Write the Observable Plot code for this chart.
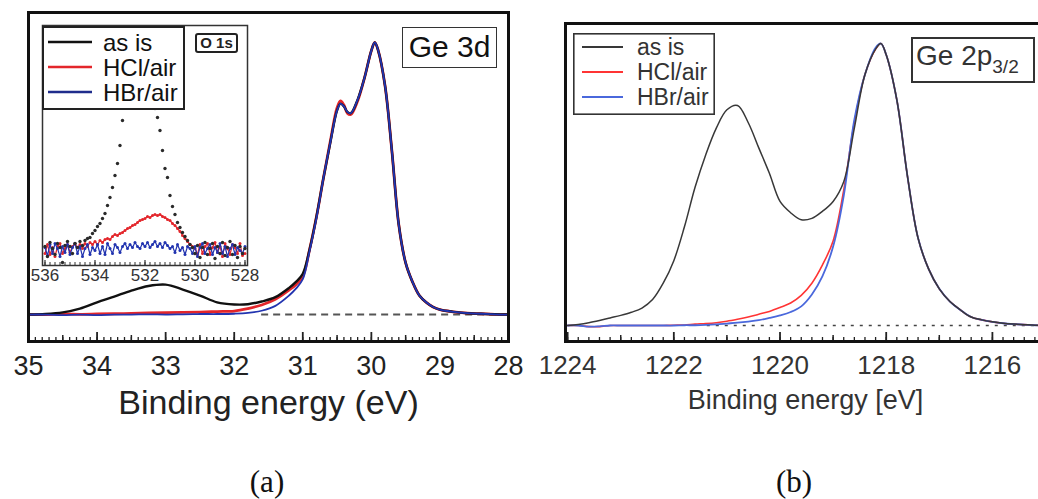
<!DOCTYPE html>
<html><head><meta charset="utf-8">
<script src="https://cdn.jsdelivr.net/npm/d3@7"></script>
<script src="https://cdn.jsdelivr.net/npm/@observablehq/plot@0.6"></script>
<style>
html,body{margin:0;padding:0;background:#fff}
#chart{position:relative;width:1038px;height:499px;overflow:hidden;background:#fff;font-family:"Liberation Sans",Arial,sans-serif}
.box{position:absolute;box-sizing:border-box;background:#fff;white-space:nowrap}
.cap{position:absolute;width:100px;text-align:center;font-family:"Liberation Serif","Times New Roman",serif;font-size:31px;line-height:31px;color:#111}
</style></head><body><div id="chart"></div>
<script>
// ---------- Panel (a): Ge 3d ----------
const energiesA = [35, 34.75, 34.5, 34.25, 34, 33.75, 33.5, 33.25, 33, 32.75, 32.5, 32.25, 32, 31.8, 31.6, 31.4, 31.2, 31.1, 31.0, 30.9, 30.8, 30.7, 30.6, 30.5, 30.45, 30.4, 30.35, 30.3, 30.2, 30.1, 30.0, 29.95, 29.9, 29.8, 29.7, 29.6, 29.5, 29.4, 29.3, 29.2, 29.1, 29.0, 28.8, 28.6, 28.4, 28.2, 28];
const asIsA = [0, 0.002, 0.008, 0.022, 0.045, 0.066, 0.088, 0.105, 0.11, 0.092, 0.07, 0.045, 0.037, 0.038, 0.048, 0.064, 0.098, 0.12, 0.15, 0.24, 0.36, 0.5, 0.63, 0.75, 0.775, 0.765, 0.745, 0.74, 0.79, 0.87, 0.97, 1.0, 0.97, 0.84, 0.6, 0.33, 0.19, 0.12, 0.07, 0.045, 0.028, 0.018, 0.01, 0.005, 0.003, 0.001, 0];
const hclA = [0, 0, 0.002, 0.001, 0.002, 0.003, 0.004, 0.006, 0.007, 0.008, 0.009, 0.011, 0.013, 0.022, 0.035, 0.056, 0.09, 0.11, 0.14, 0.24, 0.36, 0.5, 0.635, 0.76, 0.785, 0.77, 0.74, 0.735, 0.785, 0.87, 0.97, 1.0, 0.97, 0.84, 0.6, 0.33, 0.19, 0.12, 0.07, 0.045, 0.028, 0.018, 0.01, 0.005, 0.003, 0.001, 0];
const hbrA = [0, 0, -0.002, 0, -0.002, 0, 0, 0.001, 0, 0.001, 0.002, 0.002, 0.003, 0.006, 0.014, 0.032, 0.07, 0.095, 0.13, 0.235, 0.355, 0.5, 0.63, 0.75, 0.775, 0.765, 0.745, 0.74, 0.79, 0.87, 0.97, 1.0, 0.97, 0.84, 0.6, 0.33, 0.19, 0.12, 0.07, 0.045, 0.028, 0.018, 0.01, 0.005, 0.003, 0.001, 0];
const tickLabelsA = [35, 34, 33, 32, 31, 30, 29, 28];
const dashedBaseA = [31.6, 28];

// ---------- Inset of (a): O 1s ----------
const energiesInset = [536.0,535.9,535.8,535.7,535.6,535.5,535.4,535.3,535.2,535.1,
 535.0,534.9,534.8,534.7,534.6,534.5,534.4,534.3,534.2,534.1,
 534.0,533.9,533.8,533.7,533.6,533.5,533.4,533.3,533.2,533.1,
 533.0,532.9,532.8,532.7,532.6,532.5,532.4,532.3,532.2,532.1,
 532.0,531.9,531.8,531.7,531.6,531.5,531.4,531.3,531.2,531.1,
 531.0,530.9,530.8,530.7,530.6,530.5,530.4,530.3,530.2,530.1,
 530.0,529.9,529.8,529.7,529.6,529.5,529.4,529.3,529.2,529.1,
 529.0,528.9,528.8,528.7,528.6,528.5,528.4,528.3,528.2,528.1,
 528.0];
const asIsInset = [4,-6,8,2,-4,7,3,-12,5,9,
 4,-3,7,3,9,5,10,12,13,17,
 20,24,27,32,37,45,53,63,75,87,
 105,130,155,180,200,212,218,220,218,210,
 198,185,170,155,142,133,120,100,82,73,
 55,44,36,28,23,18,14,10,6,3,
 -3,5,-7,3,8,-4,2,7,-8,4,
 -3,8,-5,3,9,-4,5,-7,4,-3,
 2];
const hclInset = [-3,6,-4,3,-6,4,7,-3,2,6,
 -2,4,7,3,6,2,7,4,8,6,
 9,6,10,8,11,12,11,14,16,15,
 17,18,20,22,23,25,26,28,30,31,
 32,34,33,35,36,35,36,34,33,31,
 30,27,25,22,19,15,12,9,6,4,
 2,-4,6,-3,4,7,-4,3,8,-2,
 4,-6,7,2,-4,6,3,-3,7,-5,
 -3];
const hbrInset = [3,-5,6,-3,7,2,-6,4,-2,6,
 -4,3,7,-3,4,-6,2,6,-4,3,
 0,6,-3,4,-4,7,2,-3,6,3,
 -2,4,7,2,6,3,8,4,2,7,
 4,8,3,6,9,4,7,3,8,5,
 2,4,-2,6,0,3,-4,4,2,-3,
 4,-6,3,7,-3,2,6,-4,3,-2,
 7,-3,4,-6,2,6,-4,3,0,-3,
 4];
const tickLabelsInset = [536, 534, 532, 530, 528];

// ---------- Panel (b): Ge 2p3/2 ----------
const energiesB = [1224.0, 1223.8, 1223.6, 1223.4, 1223.2, 1223.0, 1222.8, 1222.6, 1222.4, 1222.2, 1222.0, 1221.8, 1221.6, 1221.4, 1221.2, 1221.0, 1220.8, 1220.6, 1220.4, 1220.2, 1220.0, 1219.8, 1219.6, 1219.4, 1219.2, 1219.0, 1218.8, 1218.6, 1218.4, 1218.2, 1218.1, 1218.0, 1217.8, 1217.6, 1217.4, 1217.2, 1217.0, 1216.8, 1216.6, 1216.4, 1216.2, 1216.0, 1215.8, 1215.6, 1215.4, 1215.2, 1215.0];
const asIsB = [0, 0.004, 0.01, 0.018, 0.027, 0.036, 0.047, 0.062, 0.092, 0.15, 0.23, 0.35, 0.49, 0.605, 0.7, 0.765, 0.78, 0.72, 0.63, 0.54, 0.44, 0.4, 0.375, 0.38, 0.405, 0.44, 0.51, 0.7, 0.89, 0.98, 1.0, 0.96, 0.8, 0.53, 0.31, 0.2, 0.13, 0.085, 0.055, 0.03, 0.02, 0.013, 0.008, 0.005, 0.003, 0.001, 0];
const hclB = [0, 0, -0.004, -0.004, 0, 0, 0, 0, 0, 0, 0.001, 0.002, 0.005, 0.007, 0.01, 0.015, 0.022, 0.03, 0.04, 0.05, 0.064, 0.08, 0.107, 0.15, 0.215, 0.3, 0.48, 0.72, 0.89, 0.98, 1.0, 0.96, 0.8, 0.53, 0.31, 0.2, 0.13, 0.085, 0.055, 0.03, 0.02, 0.013, 0.008, 0.005, 0.003, 0.001, 0];
const hbrB = [0, 0, -0.004, -0.003, 0, 0, 0, 0, 0, 0, 0, 0.001, 0.001, 0.002, 0.004, 0.007, 0.01, 0.014, 0.019, 0.027, 0.036, 0.048, 0.068, 0.11, 0.175, 0.28, 0.46, 0.73, 0.89, 0.985, 1.0, 0.96, 0.8, 0.53, 0.31, 0.2, 0.13, 0.085, 0.055, 0.03, 0.02, 0.013, 0.008, 0.005, 0.003, 0.001, 0];
const tickLabelsB = [1224, 1222, 1220, 1218, 1216];
const dottedBaseB = [1221.37, 1215];

const seriesNames = ["as is", "HCl/air", "HBr/air"];

// ---------- build ----------
const chart = document.getElementById("chart");
const font = '"Liberation Sans", Arial, sans-serif';
const colA = {asis: "#111", hcl: "#e3262b", hbr: "#2234b0"};
const colB = {asis: "#383838", hcl: "#ff3434", hbr: "#4a68dc"};

const rowsA = energiesA.map((e, i) => ({e, asis: asIsA[i], hcl: hclA[i], hbr: hbrA[i]}));
const rowsI = energiesInset.map((e, i) => ({e, asis: asIsInset[i], hcl: hclInset[i], hbr: hbrInset[i]}));
const rowsB = energiesB.map((e, i) => ({e, asis: asIsB[i], hcl: hclB[i], hbr: hbrB[i]}));

function place(el, left, top) {
  el.style.position = "absolute";
  el.style.left = left + "px";
  el.style.top = top + "px";
  chart.appendChild(el);
  return el;
}

// Panel (a)
const hA = 420, mtA = 12, mbA = 79, fhA = hA - mtA - mbA;
const minorA = d3.range(280, 351).map(i => i / 10);
const halfA = d3.range(28.5, 35, 1);
const plotA = Plot.plot({
  width: 520, height: hA,
  marginLeft: 28, marginRight: 12, marginTop: mtA, marginBottom: mbA,
  x: {domain: [35, 28], axis: null},
  y: {domain: [-0.099, 1.11], axis: null},
  style: {background: "transparent", fontFamily: font, color: "#222", overflow: "visible"},
  marks: [
    Plot.ruleY([0], {x1: dashedBaseA[0], x2: dashedBaseA[1], stroke: "#555", strokeWidth: 2, strokeDasharray: "7,5"}),
    Plot.line(rowsA, {x: "e", y: "hcl", stroke: colA.hcl, strokeWidth: 2.8, curve: "catmull-rom"}),
    Plot.line(rowsA, {x: "e", y: "asis", stroke: colA.asis, strokeWidth: 2.4, curve: "catmull-rom"}),
    Plot.line(rowsA, {x: "e", y: "hbr", stroke: colA.hbr, strokeWidth: 1.8, curve: "catmull-rom"}),
    Plot.ruleX(minorA, {x: d => d, insetTop: fhA - 4, stroke: "#222", strokeWidth: 1.3}),
    Plot.ruleX(halfA, {x: d => d, insetTop: fhA - 6, stroke: "#222", strokeWidth: 1.5}),
    Plot.ruleX(tickLabelsA, {x: d => d, insetTop: fhA - 9, stroke: "#222", strokeWidth: 1.8}),
    Plot.text(tickLabelsA, {x: d => d, text: d => String(d), frameAnchor: "bottom", lineAnchor: "top", dy: 14, fontSize: 27, fill: "#222"}),
    Plot.text(["Binding energy (eV)"], {frameAnchor: "bottom", lineAnchor: "bottom", dy: 72, fontSize: 34, fill: "#222"}),
    Plot.frame({stroke: "#111", strokeWidth: 3})
  ]
});
place(plotA, 0, 0);

// Inset
const hI = 300, mtI = 25, mbI = 35, fhI = hI - mtI - mbI;
const minorI = d3.range(5280, 5361, 2).map(i => i / 10);
const plotI = Plot.plot({
  width: 260, height: hI,
  marginLeft: 42, marginRight: 13, marginTop: mtI, marginBottom: mbI,
  x: {domain: [536.1, 527.9], axis: null},
  y: {domain: [-15, 225], axis: null},
  style: {background: "transparent", fontFamily: font, color: "#222", overflow: "visible"},
  marks: [
    Plot.line(rowsI, {x: "e", y: "hcl", stroke: colA.hcl, strokeWidth: 1.2}),
    Plot.dot(rowsI, {x: "e", y: "hcl", r: 1.5, fill: colA.hcl}),
    Plot.line(rowsI, {x: "e", y: "hbr", stroke: colA.hbr, strokeWidth: 1.2}),
    Plot.dot(rowsI, {x: "e", y: "hbr", r: 1.5, fill: colA.hbr}),
    Plot.dot(rowsI, {x: "e", y: "asis", r: 1.7, fill: "#2a2a2a"}),
    Plot.ruleX(minorI, {x: d => d, insetTop: fhI - 3, stroke: "#333", strokeWidth: 1}),
    Plot.ruleX(tickLabelsInset, {x: d => d, insetTop: fhI - 5, stroke: "#333", strokeWidth: 1.2}),
    Plot.text(tickLabelsInset, {x: d => d, text: d => String(d), frameAnchor: "bottom", lineAnchor: "top", dy: 3, fontSize: 17, fill: "#333"}),
    Plot.frame({stroke: "#333", strokeWidth: 1.5})
  ]
});
place(plotI, 0, 0);

// Panel (b)
const hB = 420, mtB = 23, mbB = 79, fhB = hB - mtB - mbB;
const minorB = d3.range(6075, 6121).map(i => i / 5);
const oddB = [1223, 1221, 1219, 1217, 1215];
const plotB = Plot.plot({
  width: 530, height: hB,
  marginLeft: 45, marginRight: 5, marginTop: mtB, marginBottom: mbB,
  x: {domain: [1224.04, 1215], axis: null},
  y: {domain: [-0.0567, 1.071], axis: null},
  style: {background: "transparent", fontFamily: font, color: "#333", overflow: "visible"},
  marks: [
    Plot.ruleY([0], {x1: dottedBaseB[0], x2: dottedBaseB[1], stroke: "#444", strokeWidth: 1.6, strokeDasharray: "3,6"}),
    Plot.line(rowsB, {x: "e", y: "hcl", stroke: colB.hcl, strokeWidth: 1.6, curve: "catmull-rom"}),
    Plot.line(rowsB, {x: "e", y: "hbr", stroke: colB.hbr, strokeWidth: 1.8, curve: "catmull-rom"}),
    Plot.line(rowsB, {x: "e", y: "asis", stroke: colB.asis, strokeWidth: 1.5, curve: "catmull-rom"}),
    Plot.ruleX(minorB, {x: d => d, insetTop: fhB - 4, stroke: "#222", strokeWidth: 1.3}),
    Plot.ruleX(oddB, {x: d => d, insetTop: fhB - 6, stroke: "#222", strokeWidth: 1.5}),
    Plot.ruleX(tickLabelsB, {x: d => d, insetTop: fhB - 9, stroke: "#222", strokeWidth: 1.8}),
    Plot.text(tickLabelsB, {x: d => d, text: d => String(d), frameAnchor: "bottom", lineAnchor: "top", dy: 14, fontSize: 26, fill: "#333"}),
    Plot.text(["Binding energy [eV]"], {frameAnchor: "bottom", lineAnchor: "bottom", dy: 67, fontSize: 27, fill: "#333"}),
    Plot.frame({stroke: "#111", strokeWidth: 3})
  ]
});
place(plotB, 520, 0);

// ---------- legends & labels ----------
function legend({left, top, width, height, border, borderColor, rowY, lineX1, lineX2, textX, fontSize, textColor, lineWidth, colors}) {
  const ns = "http://www.w3.org/2000/svg";
  const svg = document.createElementNS(ns, "svg");
  svg.setAttribute("width", width);
  svg.setAttribute("height", height);
  svg.style.overflow = "visible";
  const rect = document.createElementNS(ns, "rect");
  rect.setAttribute("x", border / 2); rect.setAttribute("y", border / 2);
  rect.setAttribute("width", width - border); rect.setAttribute("height", height - border);
  rect.setAttribute("fill", "#fff"); rect.setAttribute("stroke", borderColor); rect.setAttribute("stroke-width", border);
  svg.appendChild(rect);
  seriesNames.forEach((name, i) => {
    const ln = document.createElementNS(ns, "line");
    ln.setAttribute("x1", lineX1); ln.setAttribute("x2", lineX2);
    ln.setAttribute("y1", rowY[i]); ln.setAttribute("y2", rowY[i]);
    ln.setAttribute("stroke", colors[i]); ln.setAttribute("stroke-width", lineWidth);
    svg.appendChild(ln);
    const t = document.createElementNS(ns, "text");
    t.setAttribute("x", textX); t.setAttribute("y", rowY[i]);
    t.setAttribute("dy", "0.36em");
    t.setAttribute("font-family", font);
    t.setAttribute("font-size", fontSize);
    t.setAttribute("fill", textColor);
    t.textContent = name;
    svg.appendChild(t);
  });
  place(svg, left, top);
}

legend({left: 42, top: 26, width: 143, height: 84, border: 2, borderColor: "#222",
  rowY: [16, 41, 66], lineX1: 6, lineX2: 50, textX: 61, fontSize: 24, textColor: "#111",
  lineWidth: 2.6, colors: [colA.asis, colA.hcl, "#1f2d8c"]});

legend({left: 573, top: 33, width: 142, height: 82, border: 1.6, borderColor: "#333",
  rowY: [14, 39, 64], lineX1: 9, lineX2: 50, textX: 64, fontSize: 23, textColor: "#333",
  lineWidth: 1.8, colors: [colB.asis, colB.hcl, colB.hbr]});

function box(html, css) {
  const d = document.createElement("div");
  d.className = "box";
  d.innerHTML = html;
  d.style.cssText += css;
  chart.appendChild(d);
  return d;
}
box("O 1s", "left:195px;top:33px;width:43px;height:20px;border:2px solid #222;border-radius:3px;font-weight:bold;font-size:15px;line-height:16px;text-align:center;color:#222;");
box("Ge 3d", "left:402px;top:27px;width:95px;height:41px;border:1.5px solid #333;font-size:30px;line-height:37px;text-align:center;color:#111;");
box('Ge 2p<span style="font-size:19px;position:relative;top:8px;line-height:0">3/2</span>', "left:911px;top:37px;width:124px;height:46px;border:2px solid #333;font-size:28px;line-height:34px;padding-left:3px;color:#333;");

function caption(text, center) {
  const d = document.createElement("div");
  d.className = "cap";
  d.textContent = text;
  d.style.left = (center - 50) + "px";
  d.style.top = "466px";
  chart.appendChild(d);
}
caption("(a)", 267);
caption("(b)", 794);
</script></body></html>
